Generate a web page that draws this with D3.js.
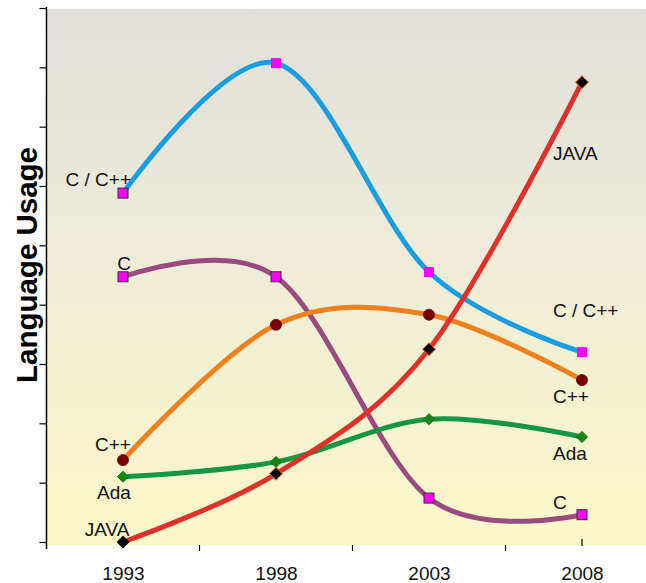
<!DOCTYPE html>
<html><head><meta charset="utf-8">
<script src="https://cdn.jsdelivr.net/npm/d3@7"></script>
<style>body{margin:0;background:#fff;}text{font-family:"Liberation Sans",Arial,sans-serif;}</style>
</head><body>
<svg id="c" width="646" height="583"></svg>
<script>
const years = ["1993","1998","2003","2008"];
const yTicks = [0,1,2,3,4,5,6,7,8,9];
const cpp_c = [5.88, 8.07, 4.55, 3.20];   // C / C++
const cLang = [4.47, 4.47, 0.74, 0.46];   // C
const cppLang = [1.38, 3.66, 3.83, 2.73]; // C++
const ada = [1.10, 1.35, 2.07, 1.77];     // Ada
const java = [0.0, 1.15, 3.25, 7.75];     // JAVA
const seriesNames = ["C / C++","C","C++","Ada","JAVA"];

const svg = d3.select("#c");
const plot = {x0: 47.5, x1: 646, y0: 9, y1: 545};
const FS = 19;

const x = d3.scalePoint().domain(years).range([123, 582]);
const y = d3.scaleLinear().domain([0, 9]).range([542, 8]);

const defs = svg.append("defs");
const g = defs.append("linearGradient").attr("id","bg").attr("x1",0).attr("y1",0).attr("x2",0).attr("y2",1);
g.append("stop").attr("offset","0%").attr("stop-color","#e0dfdb");
g.append("stop").attr("offset","45%").attr("stop-color","#eeecd8");
g.append("stop").attr("offset","100%").attr("stop-color","#fbf8c9");
svg.append("rect").attr("x",plot.x0).attr("y",plot.y0).attr("width",plot.x1-plot.x0).attr("height",plot.y1-plot.y0).attr("fill","url(#bg)");

const ya = svg.append("g").attr("transform","translate(46.5,0)")
  .call(d3.axisLeft(y).tickValues(yTicks).tickSize(7).tickFormat(""));
ya.select(".domain").remove();
ya.selectAll(".tick line").attr("stroke","#000").attr("stroke-width",1.2);
svg.append("line").attr("x1",46.5).attr("x2",46.5).attr("y1",y(9)-1).attr("y2",549).attr("stroke","#000").attr("stroke-width",1.5);

const xa = svg.append("g").attr("transform",`translate(0,${plot.y1})`)
  .call(d3.axisBottom(x).tickSize(0).tickPadding(22));
xa.select(".domain").remove();
xa.selectAll("text").attr("font-size",FS).attr("fill","#111").attr("font-family","Liberation Sans, Arial, sans-serif");
const step = x.step();
const mids = years.slice(0,-1).map(d => x(d) + step/2);
svg.selectAll(".xt").data(mids).enter().append("line")
  .attr("x1",d=>d).attr("x2",d=>d).attr("y1",plot.y1).attr("y2",plot.y1+6).attr("stroke","#000").attr("stroke-width",1.2);
svg.append("line").attr("x1",x("2008")).attr("x2",x("2008")).attr("y1",plot.y1-6).attr("y2",plot.y1+1).attr("stroke","#000").attr("stroke-width",1.2);

svg.append("text").attr("transform","translate(37,265) rotate(-90)").attr("text-anchor","middle")
  .attr("font-size",29.5).attr("font-weight","bold").attr("fill","#000").text("Language Usage");

const line = d3.line().x((d,i)=>x(years[i])).y(d=>y(d)).curve(d3.curveCatmullRom.alpha(0));

const series = [
  {name:seriesNames[0], vals:cpp_c, color:"#1a9ee2", marker:"square", fill:"#ff00ff", stroke:"none"},
  {name:seriesNames[1], vals:cLang, color:"#9a4a7e", marker:"square", fill:"#ff00ff", stroke:"#333"},
  {name:seriesNames[2], vals:cppLang, color:"#f0801e", marker:"circle", fill:"#7a0000", stroke:"#500"},
  {name:seriesNames[3], vals:ada, color:"#159640", marker:"diamond", fill:"#118811", stroke:"#0a6a0a"},
  {name:seriesNames[4], vals:java, color:"#e0302a", marker:"diamond", fill:"#000", stroke:"#f07820"},
];

series.forEach(s => {
  svg.append("path").datum(s.vals).attr("d",line).attr("fill","none")
    .attr("stroke",s.color).attr("stroke-width",5).attr("stroke-linecap","round");
});
series.forEach(s => {
  s.vals.forEach((v,i) => {
    const cx = x(years[i]), cy = y(v);
    if (s.marker==="square") {
      svg.append("rect").attr("x",cx-5).attr("y",cy-5).attr("width",10).attr("height",10)
        .attr("fill",s.fill).attr("stroke",(s.name==="C / C++" && i===0) ? "#333" : s.stroke).attr("stroke-width",1);
    } else if (s.marker==="circle") {
      svg.append("circle").attr("cx",cx).attr("cy",cy).attr("r",5.5).attr("fill",s.fill).attr("stroke",s.stroke).attr("stroke-width",0.8);
    } else {
      const r = s.name==="JAVA" ? 6.5 : 5.5;
      svg.append("path").attr("d",`M${cx},${cy-r}L${cx+r},${cy}L${cx},${cy+r}L${cx-r},${cy}Z`)
        .attr("fill",s.fill).attr("stroke",(s.name==="JAVA" && i===0) ? "none" : s.stroke).attr("stroke-width",1);
    }
  });
});

const leftLab = [
  {s:0, dx:8, dy:-7, anchor:"end"},
  {s:1, dx:1, dy:-7, anchor:"middle"},
  {s:2, dx:-10, dy:-9, anchor:"middle"},
  {s:3, dx:-9, dy:22, anchor:"middle"},
  {s:4, dx:-16, dy:-6, anchor:"middle"},
];
const rightLab = [
  {s:4, dx:-29, dy:78, anchor:"start"},
  {s:0, dx:-29, dy:-35, anchor:"start"},
  {s:2, dx:-29, dy:23, anchor:"start"},
  {s:3, dx:-29, dy:23, anchor:"start"},
  {s:1, dx:-29, dy:-6, anchor:"start"},
];
leftLab.forEach(l => {
  const s = series[l.s];
  svg.append("text").attr("x",x(years[0])+l.dx).attr("y",y(s.vals[0])+l.dy)
    .attr("text-anchor",l.anchor).attr("font-size",FS).attr("fill","#111").text(s.name);
});
rightLab.forEach(l => {
  const s = series[l.s]; const n = years.length-1;
  svg.append("text").attr("x",x(years[n])+l.dx).attr("y",y(s.vals[n])+l.dy)
    .attr("text-anchor",l.anchor).attr("font-size",FS).attr("fill","#111").text(s.name);
});
</script>
</body></html>
